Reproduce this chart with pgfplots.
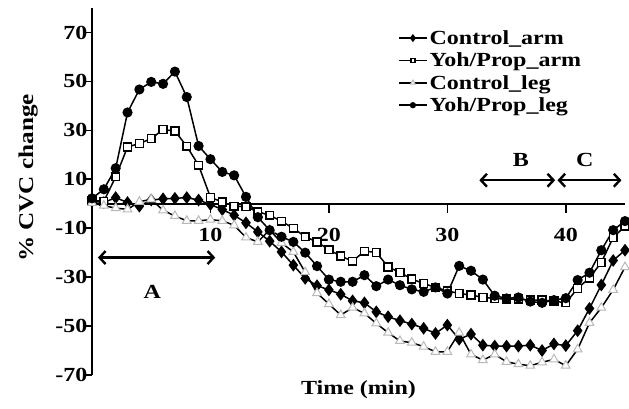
\documentclass[border=0pt]{standalone}
\usepackage{fontspec}
\setmainfont{Liberation Serif}[FakeStretch=1.2, BoldFeatures={FakeStretch=1.2}]
\usepackage{pgfplots}
\pgfplotsset{compat=1.18}
\usetikzlibrary{arrows.meta}

\begin{document}
\begin{tikzpicture}
\begin{axis}[
  width=533pt, height=367pt, scale only axis,
  xmin=0, xmax=45, ymin=-70, ymax=80,
  axis x line=middle, axis y line=left,
  axis line style={-, line width=1.6pt},
  clip=false,
  xtick={0,10,20,30,40}, xticklabels={0,10,20,30,40},
  ytick={-70,-50,-30,-10,10,30,50,70},
  yticklabels={-70,-50,-30,-10,10,30,50,70},
  tick align=outside, major tick length=9pt,
  tick style={line width=1.6pt, black},
  font=\bfseries\fontsize{20}{24}\selectfont,
  xticklabel style={anchor=north, yshift=-12pt},
  yticklabel style={xshift=8pt},
  xlabel={Time (min)}, ylabel={\% CVC change},
  every axis x label/.style={at={(axis description cs:0.5,-0.041)}, anchor=center},
  every axis y label/.style={at={(axis description cs:-0.12,0.537)}, rotate=90, anchor=center,
    font=\bfseries\fontsize{21}{24}\selectfont},
  legend style={at={(axis description cs:0.574,0.945)}, anchor=north west,
    draw=none, fill=none, row sep=3pt, inner sep=0pt,
    font=\bfseries\fontsize{20}{24}\selectfont},
  legend cell align=left,
  legend image code/.code={\draw[mark repeat=2,mark phase=2,#1,/tikz/every mark/.append style={scale=0.55}] plot coordinates {(0pt,0pt) (14pt,0pt) (28pt,0pt)};},
]
% Control_arm
\addplot[black, line width=1.5pt, mark=diamond*, mark size=5.2pt, mark options={fill=black}] coordinates {
(0,1.0) (1,0.5) (2,2.5) (3,0.5) (4,-1.0) (5,1.5) (6,2.0) (7,2.2) (8,2.5) (9,1.5)
(10,-0.3) (11,-2.4) (12,-4.7) (13,-7.8) (14,-11.5) (15,-15.3) (16,-19.7) (17,-25.1) (18,-30.5) (19,-33.5)
(20,-35.2) (21,-37) (22,-39.7) (23,-40.5) (24,-44.2) (25,-46.2) (26,-47.8) (27,-49.2) (28,-50.9) (29,-53)
(30,-49.6) (31,-55.4) (32,-53.3) (33,-57.8) (34,-58.2) (35,-58.2) (36,-58.2) (37,-57.8) (38,-60) (39,-57.3)
(40,-58) (41,-51.9) (42,-42.8) (43,-33.2) (44,-23.2) (45,-19)
};
\addlegendentry{Control\_arm}
% Yoh/Prop_arm
\addplot[black, line width=1.5pt, mark=square*, mark size=3.9pt, mark options={fill=white, draw=black, line width=1.5pt}] coordinates {
(0,1.4) (1,1.0) (2,11) (3,23.2) (4,24.6) (5,26.6) (6,30.3) (7,29.7) (8,23.5) (9,15.7)
(10,2.6) (11,0.7) (12,-1.0) (13,-1.2) (14,-3.3) (15,-4.7) (16,-7.2) (17,-10) (18,-13.5) (19,-15.6)
(20,-18.8) (21,-21.4) (22,-23.5) (23,-19.4) (24,-19.9) (25,-25.8) (26,-28.1) (27,-30.8) (28,-32.6) (29,-34.2)
(30,-35.6) (31,-36.7) (32,-37.3) (33,-38.3) (34,-38.7) (35,-39) (36,-39) (37,-39.4) (38,-39.4) (39,-39.8)
(40,-40.5) (41,-34.6) (42,-30.3) (43,-24) (44,-13.8) (45,-9.2)
};
\addlegendentry{Yoh/Prop\_arm}
% Control_leg
\addplot[black, line width=1.5pt, mark=triangle*, mark size=5pt, mark options={fill=white, draw=gray!55, line width=1pt}] coordinates {
(0,0.3) (1,-0.8) (2,-1.8) (3,-2.3) (4,0.8) (5,1.8) (6,-2.7) (7,-5) (8,-7) (9,-7)
(10,-6.5) (11,-7) (12,-8.8) (13,-13.8) (14,-15.6) (15,-10.7) (16,-16) (17,-19.7) (18,-28) (19,-36.5)
(20,-41) (21,-45.5) (22,-42.5) (23,-44.8) (24,-48.9) (25,-52.7) (26,-56.1) (27,-56.8) (28,-58.4) (29,-60.5)
(30,-60.5) (31,-52.7) (32,-61.6) (33,-63.9) (34,-61.6) (35,-64.6) (36,-65.6) (37,-66.2) (38,-64.8) (39,-63.6)
(40,-66.2) (41,-59.5) (42,-48.7) (43,-42.5) (44,-35.2) (45,-25.9)
};
\addlegendentry{Control\_leg}
% Yoh/Prop_leg
\addplot[black, line width=1.5pt, mark=*, mark size=4.3pt, mark options={fill=black}] coordinates {
(0,2.2) (1,5.9) (2,14.5) (3,37.3) (4,46.7) (5,49.8) (6,49) (7,54) (8,43.6) (9,23.6)
(10,18.2) (11,13) (12,11.6) (13,2.8) (14,-5.5) (15,-10.8) (16,-13.5) (17,-15.6) (18,-20) (19,-25.5)
(20,-31) (21,-31.9) (22,-31.9) (23,-29.2) (24,-33.7) (25,-31) (26,-33.3) (27,-35) (28,-36) (29,-34.2)
(30,-36.7) (31,-25.4) (32,-27.4) (33,-31) (34,-37.6) (35,-38.7) (36,-38.3) (37,-40) (38,-40.5) (39,-39.4)
(40,-38.6) (41,-31.2) (42,-28.2) (43,-19) (44,-10.8) (45,-7.1)
};
\addlegendentry{Yoh/Prop\_leg}
% phase arrows
\draw[line width=2.4pt, {Straight Barb[length=6pt,width=13pt]}-{Straight Barb[length=6pt,width=13pt]}] (axis cs:0.5,-22) -- (axis cs:10.4,-22);
\node at (axis cs:5.1,-36) {A};
\draw[line width=2.4pt, {Straight Barb[length=6pt,width=13pt]}-{Straight Barb[length=6pt,width=13pt]}] (axis cs:32.7,9.6) -- (axis cs:39.1,9.6);
\node at (axis cs:36.2,17.8) {B};
\draw[line width=2.4pt, {Straight Barb[length=6pt,width=13pt]}-{Straight Barb[length=6pt,width=13pt]}] (axis cs:39.3,9.6) -- (axis cs:44.7,9.6);
\node at (axis cs:41.6,17.8) {C};
\end{axis}
\pgfresetboundingbox
\path[use as bounding box] ([shift={(-92pt,-34pt)}]current axis.south west) rectangle ([shift={(4pt,8pt)}]current axis.north east);
\end{tikzpicture}
\end{document}
